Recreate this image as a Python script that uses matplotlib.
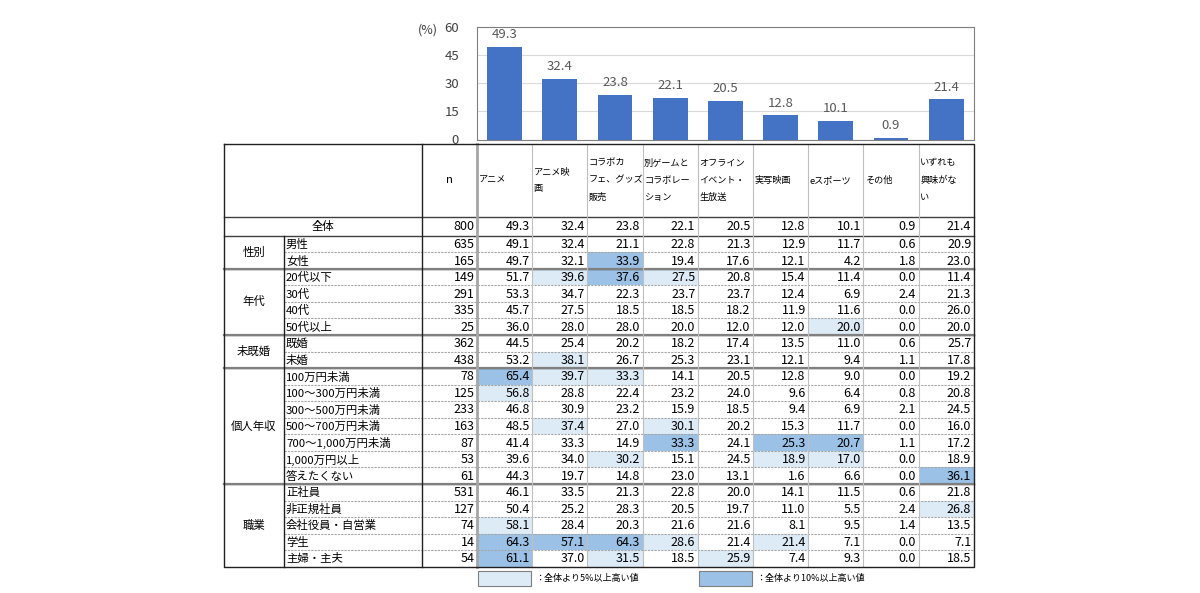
import matplotlib
matplotlib.use('Agg')
import matplotlib.pyplot as plt
from matplotlib.patches import Rectangle

plt.rcParams['font.family'] = ['Noto Sans CJK JP', 'DejaVu Sans']

# ---- data ----
choices = ["アニメ", "アニメ映画", "コラボカフェ、グッズ販売", "別ゲームとコラボレーション",
           "オフラインイベント・生放送", "実写映画", "eスポーツ", "その他", "いずれも興味がない"]
header_labels = ["アニメ", "アニメ映\n画", "コラボカ\nフェ、グッズ\n販売", "別ゲームと\nコラボレー\nション",
                 "オフライン\nイベント・\n生放送", "実写映画", "eスポーツ", "その他", "いずれも\n興味がな\nい"]

total_n = 800
total_vals = [49.3, 32.4, 23.8, 22.1, 20.5, 12.8, 10.1, 0.9, 21.4]

gender_labels = ["男性", "女性"]
gender_n = [635, 165]
gender_vals = [[49.1, 32.4, 21.1, 22.8, 21.3, 12.9, 11.7, 0.6, 20.9],
               [49.7, 32.1, 33.9, 19.4, 17.6, 12.1, 4.2, 1.8, 23.0]]

age_labels = ["20代以下", "30代", "40代", "50代以上"]
age_n = [149, 291, 335, 25]
age_vals = [[51.7, 39.6, 37.6, 27.5, 20.8, 15.4, 11.4, 0.0, 11.4],
            [53.3, 34.7, 22.3, 23.7, 23.7, 12.4, 6.9, 2.4, 21.3],
            [45.7, 27.5, 18.5, 18.5, 18.2, 11.9, 11.6, 0.0, 26.0],
            [36.0, 28.0, 28.0, 20.0, 12.0, 12.0, 20.0, 0.0, 20.0]]

marital_labels = ["既婚", "未婚"]
marital_n = [362, 438]
marital_vals = [[44.5, 25.4, 20.2, 18.2, 17.4, 13.5, 11.0, 0.6, 25.7],
                [53.2, 38.1, 26.7, 25.3, 23.1, 12.1, 9.4, 1.1, 17.8]]

income_labels = ["100万円未満", "100～300万円未満", "300～500万円未満", "500～700万円未満",
                 "700～1,000万円未満", "1,000万円以上", "答えたくない"]
income_n = [78, 125, 233, 163, 87, 53, 61]
income_vals = [[65.4, 39.7, 33.3, 14.1, 20.5, 12.8, 9.0, 0.0, 19.2],
               [56.8, 28.8, 22.4, 23.2, 24.0, 9.6, 6.4, 0.8, 20.8],
               [46.8, 30.9, 23.2, 15.9, 18.5, 9.4, 6.9, 2.1, 24.5],
               [48.5, 37.4, 27.0, 30.1, 20.2, 15.3, 11.7, 0.0, 16.0],
               [41.4, 33.3, 14.9, 33.3, 24.1, 25.3, 20.7, 1.1, 17.2],
               [39.6, 34.0, 30.2, 15.1, 24.5, 18.9, 17.0, 0.0, 18.9],
               [44.3, 19.7, 14.8, 23.0, 13.1, 1.6, 6.6, 0.0, 36.1]]

job_labels = ["正社員", "非正規社員", "会社役員・自営業", "学生", "主婦・主夫"]
job_n = [531, 127, 74, 14, 54]
job_vals = [[46.1, 33.5, 21.3, 22.8, 20.0, 14.1, 11.5, 0.6, 21.8],
            [50.4, 25.2, 28.3, 20.5, 19.7, 11.0, 5.5, 2.4, 26.8],
            [58.1, 28.4, 20.3, 21.6, 21.6, 8.1, 9.5, 1.4, 13.5],
            [64.3, 57.1, 64.3, 28.6, 21.4, 21.4, 7.1, 0.0, 7.1],
            [61.1, 37.0, 31.5, 18.5, 25.9, 7.4, 9.3, 0.0, 18.5]]

group_names = ["性別", "年代", "未既婚", "個人年収", "職業"]
group_labels = [gender_labels, age_labels, marital_labels, income_labels, job_labels]
group_n = [gender_n, age_n, marital_n, income_n, job_n]
group_vals = [gender_vals, age_vals, marital_vals, income_vals, job_vals]

legend_texts = ["：全体より5%以上高い値", "：全体より10%以上高い値"]

light = '#DDEBF7'
dark = '#9BC2E6'
bar_color = '#4472C4'

fig = plt.figure(figsize=(12, 5.93), dpi=100)

# table canvas in pixel units
tb = fig.add_axes([0, 0, 1, 1])
tb.set_xlim(0, 1200)
tb.set_ylim(593, 0)
tb.axis('off')

x_left, x_sub, x_n, x_data = 224, 284, 422, 477
col_w = 55.2
ncol = len(choices)
x_right = x_data + col_w * ncol
y_top, y_head = 144, 216.7
row_h0, row_h = 19, 16.55
num_fs, lab_fs, head_fs = 9, 8.2, 6.6


def col_x(j):
    return x_data + j * col_w


def shade(v, j):
    d = round(v - total_vals[j], 1)
    if d >= 10:
        return dark
    if d >= 5:
        return light
    return None


def put_row(y0, h, n, vals):
    yc = y0 + h / 2 + 0.5
    tb.text(x_data - 2.5, yc, str(n), ha='right', va='center', fontsize=num_fs)
    for j, v in enumerate(vals):
        c = shade(v, j)
        if c:
            tb.add_patch(Rectangle((col_x(j), y0), col_w, h, facecolor=c, edgecolor='none', zorder=0))
        tb.text(col_x(j + 1) - 2.5, yc, f"{v:.1f}", ha='right', va='center', fontsize=num_fs)


# header
tb.text((x_n + x_data) / 2, (y_top + y_head) / 2, "n", ha='center', va='center', fontsize=lab_fs)
for j, lab in enumerate(header_labels):
    tb.text(col_x(j) + 1.5, (y_top + y_head) / 2, lab, ha='left', va='center',
            fontsize=head_fs, linespacing=2.15)

# total row
tb.text((x_left + x_n) / 2, y_head + row_h0 / 2 + 0.5, "全体", ha='center', va='center', fontsize=lab_fs)
put_row(y_head, row_h0, total_n, total_vals)

y = y_head + row_h0
sep_lines = [y_head, y]
inner_lines = []
for name, labs, ns, vals in zip(group_names, group_labels, group_n, group_vals):
    g0 = y
    for i, (lab, n, v) in enumerate(zip(labs, ns, vals)):
        tb.text(x_sub + 2, y + row_h / 2 + 0.5, lab, ha='left', va='center', fontsize=lab_fs)
        put_row(y, row_h, n, v)
        y += row_h
        if i < len(labs) - 1:
            inner_lines.append(y)
    tb.text((x_left + x_sub) / 2, (g0 + y) / 2, name, ha='center', va='center', fontsize=lab_fs)
    sep_lines.append(y)
y_bot = y

# grid lines
for yy in inner_lines:
    tb.plot([x_sub, x_right], [yy, yy], color='#A6A6A6', lw=0.8, ls=(0, (2, 1)))
for yy in sep_lines[:-1]:
    tb.plot([x_left, x_right], [yy, yy], color='#404040', lw=1.0)
for yy in sep_lines[2:-1]:
    tb.plot([x_left, x_right], [yy, yy], color='#808080', lw=1.6)
for j in range(1, ncol):
    tb.plot([col_x(j), col_x(j)], [y_top, y_bot], color='#BFBFBF', lw=0.8)
tb.plot([x_data, x_data], [y_top, y_bot], color='#A6A6A6', lw=2)
tb.plot([x_sub, x_sub], [y_head + row_h0, y_bot], color='#202020', lw=1)
tb.plot([x_n, x_n], [y_top, y_bot], color='#202020', lw=1)
tb.plot([x_left, x_right, x_right, x_left, x_left], [y_top, y_top, y_bot, y_bot, y_top],
        color='#202020', lw=1)

# legend below the table
for k, (txt, c) in enumerate(zip(legend_texts, [light, dark])):
    bx = col_x(4 * k)
    tb.add_patch(Rectangle((bx + 1, 571), col_w - 2, 15, facecolor=c, edgecolor='#7F7F7F', lw=0.8))
    tb.text(bx + col_w + 3, 578.5, txt, ha='left', va='center', fontsize=6.5)

tb.text(428, 30, "(%)", ha='center', va='center', fontsize=9, color='#404040')

# bar chart aligned with the data columns
ax = fig.add_axes([x_data / 1200, 1 - 139.5 / 593, (x_right - x_data) / 1200, 112.8 / 593])
bars = ax.bar(range(ncol), total_vals, width=0.63, color=bar_color, zorder=3)
ax.set_xlim(-0.5, ncol - 0.5)
ax.set_ylim(0, 60)
ax.set_yticks([0, 15, 30, 45, 60])
ax.set_xticks([])
ax.yaxis.grid(True, color='#D9D9D9', lw=0.8)
ax.set_axisbelow(True)
ax.tick_params(axis='y', length=0, pad=13, labelsize=9.5, labelcolor='#404040')
for s in ax.spines.values():
    s.set_color('#7F7F7F')
ax.bar_label(bars, fmt='%.1f', padding=4, fontsize=9.5, color='#595959')

fig.savefig('out.png', dpi=100)
